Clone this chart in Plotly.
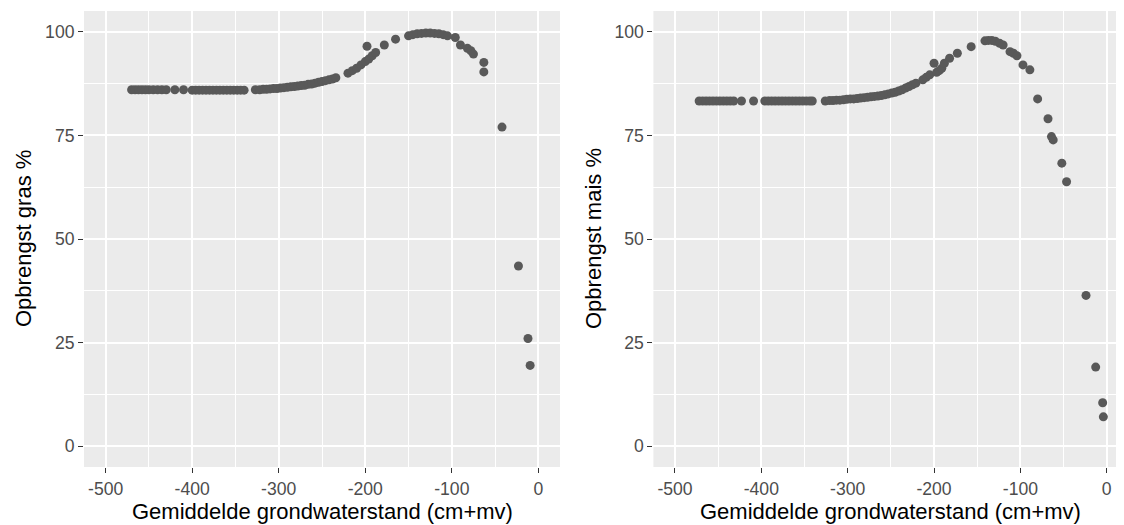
import plotly.graph_objects as go

# ---- data: left panel (gras) ----
gras_x = [-470, -466, -462, -458, -454, -450, -445, -440, -435, -430, -420, -410,
          -400, -396, -392, -388, -384, -380, -376, -372, -368, -364, -360, -356,
          -352, -348, -344, -340,
          -327, -322, -318, -314, -310, -306, -302, -298, -294, -290, -286, -282,
          -278, -274, -270, -266, -262, -258, -254, -250, -246, -242, -238, -234,
          -220, -215, -210, -205, -200, -196, -192, -188, -198, -178, -165,
          -150, -145, -140, -135, -130, -125, -120, -115, -110, -105, -96, -90,
          -82, -78, -75, -63, -63, -42, -23, -12, -9.5]
gras_y = [86.0, 86.0, 86.0, 86.0, 86.0, 86.0, 86.0, 86.0, 86.0, 86.0, 86.0, 86.0,
          85.9, 85.9, 85.9, 85.9, 85.9, 85.9, 85.9, 85.9, 85.9, 85.9, 85.9, 85.9,
          85.9, 85.9, 85.9, 85.9,
          86.0, 86.0, 86.1, 86.1, 86.2, 86.3, 86.3, 86.4, 86.5, 86.6, 86.7, 86.8,
          86.9, 87.0, 87.1, 87.3, 87.4, 87.6, 87.8, 88.0, 88.2, 88.4, 88.6, 88.9,
          90.0, 90.6, 91.2, 92.0, 92.8, 93.4, 94.2, 95.0, 96.5, 96.8, 98.2,
          99.0, 99.3, 99.5, 99.6, 99.7, 99.7, 99.6, 99.5, 99.3, 99.0, 98.6, 96.8,
          96.0, 95.4, 94.6, 92.6, 90.3, 77.0, 43.5, 26.0, 19.5]

# ---- data: right panel (mais) ----
mais_x = [-472, -468, -464, -460, -456, -452, -448, -444, -440, -436, -432, -423,
          -409, -396, -392, -388, -384, -380, -376, -372, -368, -364, -360, -356,
          -352, -348, -344, -341,
          -326, -321, -317, -313, -309, -305, -301, -297, -293, -289, -285, -281,
          -277, -273, -269, -265, -261, -257, -253, -249, -245, -241, -237, -233,
          -229, -225, -221, -213, -209, -205, -200, -197, -194, -191, -188, -182,
          -173, -157, -141, -137, -133, -129, -124, -120, -112, -108, -104, -97,
          -89, -80, -68, -64, -62, -52, -46.5, -24, -12.8, -4.7, -3.9]
mais_y = [83.3, 83.3, 83.3, 83.3, 83.3, 83.3, 83.3, 83.3, 83.3, 83.3, 83.3, 83.3,
          83.3, 83.3, 83.3, 83.3, 83.3, 83.3, 83.3, 83.3, 83.3, 83.3, 83.3, 83.3,
          83.3, 83.3, 83.3, 83.3,
          83.3, 83.4, 83.4, 83.5, 83.5, 83.6, 83.7, 83.8, 83.8, 83.9, 84.0, 84.1,
          84.2, 84.3, 84.4, 84.5, 84.6, 84.8, 85.0, 85.2, 85.4, 85.7, 86.0, 86.4,
          86.8, 87.2, 87.6, 88.4, 89.0, 89.6, 92.4, 90.2, 90.6, 91.2, 92.4, 93.6,
          94.8, 96.4, 97.8, 97.9, 97.9, 97.7, 97.2, 96.8, 95.2, 94.8, 94.2, 92.0,
          90.8, 83.8, 79.0, 74.7, 73.9, 68.3, 63.8, 36.4, 19.1, 10.5, 7.1]

x_ticks = [-500, -400, -300, -200, -100, 0]
y_ticks = [0, 25, 50, 75, 100]
x_title = "Gemiddelde grondwaterstand (cm+mv)"
y_title_left = "Opbrengst gras %"
y_title_right = "Opbrengst mais %"

# page body has an 8px default margin: the figure is sized to fill the rest
OFF = 8
PAGE_W, PAGE_H = 1124, 525
W, H = PAGE_W - OFF, PAGE_H - OFF

def fx(px):  # page pixel -> paper x
    return (px - OFF) / W

def fy(py):  # page pixel -> paper y
    return 1 - (py - OFF) / H

FONT = "Liberation Sans, Arial, Helvetica, sans-serif"
PT = "#595959"
TICKF = dict(family=FONT, size=17.6, color="#4d4d4d")
TITLEF = dict(family=FONT, size=22, color="black")

LEFT_DOM = [84, 560]
RIGHT_DOM = [653.4, 1124]
TOP, BOTTOM = 11, 467

fig = go.Figure()
fig.add_trace(go.Scatter(x=gras_x, y=gras_y, mode="markers", xaxis="x", yaxis="y",
                         marker=dict(size=9, color=PT, line=dict(width=0)), showlegend=False))
fig.add_trace(go.Scatter(x=mais_x, y=mais_y, mode="markers", xaxis="x2", yaxis="y2",
                         marker=dict(size=9, color=PT, line=dict(width=0)), showlegend=False))

ydom = [fy(BOTTOM), fy(TOP)]

def xax(dom, rng, anchor):
    return dict(domain=[fx(dom[0]), min(1.0, fx(dom[1]))], range=rng, anchor=anchor,
                tickmode="array", tickvals=x_ticks, ticktext=[str(v) for v in x_ticks],
                showgrid=True, gridcolor="white", gridwidth=2,
                minor=dict(showgrid=True, gridcolor="white", gridwidth=1, dtick=50, tick0=0),
                zeroline=False, showline=False,
                ticks="outside", ticklen=5, tickwidth=1, tickcolor="#333333",
                tickfont=TICKF, ticklabelstandoff=1,
                fixedrange=True)

def yax(anchor):
    return dict(domain=ydom, range=[-5, 105], anchor=anchor,
                tickmode="array", tickvals=y_ticks, ticktext=[str(v) for v in y_ticks],
                showgrid=True, gridcolor="white", gridwidth=2,
                minor=dict(showgrid=True, gridcolor="white", gridwidth=1, dtick=12.5, tick0=0),
                zeroline=False, showline=False,
                ticks="outside", ticklen=5, tickwidth=1, tickcolor="#333333",
                tickfont=TICKF,
                fixedrange=True)

def ann_x(dom):
    return dict(text=x_title, xref="paper", yref="paper",
                x=fx((dom[0] + dom[1]) / 2), y=fy(511),
                xanchor="center", yanchor="middle", showarrow=False, font=TITLEF)

def ann_y(xpx, text):
    return dict(text=text, xref="paper", yref="paper", textangle=-90,
                x=fx(xpx), y=fy((TOP + BOTTOM) / 2),
                xanchor="center", yanchor="middle", showarrow=False, font=TITLEF)

fig.update_layout(
    width=W, height=H,
    margin=dict(l=0, r=0, t=0, b=0),
    paper_bgcolor="white",
    plot_bgcolor="#ebebeb",
    xaxis=xax(LEFT_DOM, [-525, 25], "y"),
    yaxis=yax("x"),
    xaxis2=xax(RIGHT_DOM, [-525, 20], "y2"),
    yaxis2=yax("x2"),
    annotations=[ann_x(LEFT_DOM), ann_x([653.4, 1128.3]),
                 ann_y(23, y_title_left), ann_y(593, y_title_right)],
)

fig.write_html("out.html")
